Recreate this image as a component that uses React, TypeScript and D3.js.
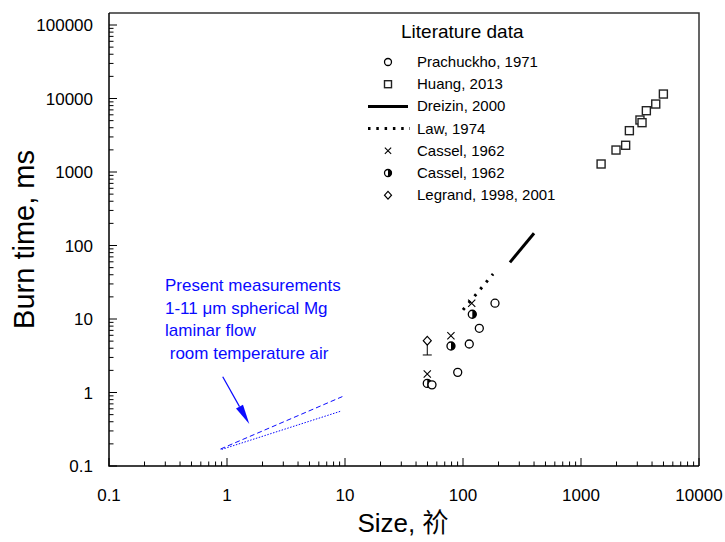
import React from "react";
import * as d3 from "d3";

const W = 725;
const H = 542;

// Tick labels
const xTickValues = [0.1, 1, 10, 100, 1000, 10000];
const yTickValues = [0.1, 1, 10, 100, 1000, 10000, 100000];

// Huang, 2013 (squares)
const huangX = [1480, 1980, 2390, 2570, 3160, 3290, 3580, 4300, 4990];
const huangY = [1285, 1990, 2310, 3650, 5100, 4690, 6820, 8410, 11500];

// Prachuckho, 1971 (open circles)
const prachX = [54.6, 90.2, 113, 137.5, 186.7];
const prachY = [1.27, 1.88, 4.57, 7.47, 16.4];

// Cassel, 1962 (half-filled circles)
const casselHalfX = [49.8, 79.1, 119.9];
const casselHalfY = [1.33, 4.29, 11.6];

// Cassel, 1962 (crosses)
const casselXX = [49.8, 79, 118.5];
const casselXY = [1.79, 5.93, 16.4];

// Legrand, 1998, 2001 (diamond with lower error)
const legrandX = [49.8];
const legrandY = [5.07];
const legrandLow = [3.24];

// Dreizin, 2000 (solid line)
const dreizinX = [250, 400];
const dreizinY = [59, 147];

// Law, 1974 (dotted line)
const lawX = [100, 180];
const lawY = [13.3, 41];

// Present measurements (blue)
const presDashX = [0.88, 9.5];
const presDashY = [0.17, 0.88];
const presDotX = [0.9, 9.3];
const presDotY = [0.168, 0.56];

// Annotation arrow (data coords)
const arrowFrom = [0.92, 1.64];
const arrowTo = [1.545, 0.372];

const annotationLines = [
  "Present measurements",
  "1-11 \u03bcm spherical Mg",
  "laminar flow",
  " room temperature air",
];

const legendTitle = "Literature data";
const legendItems = [
  { label: "Prachuckho, 1971", kind: "circle" },
  { label: "Huang, 2013", kind: "square" },
  { label: "Dreizin, 2000", kind: "solid" },
  { label: "Law, 1974", kind: "dotted" },
  { label: "Cassel, 1962", kind: "cross" },
  { label: "Cassel, 1962", kind: "half" },
  { label: "Legrand, 1998, 2001", kind: "diamond" },
];

const FONT = "'Liberation Sans', Arial, 'Noto Sans CJK SC', sans-serif";
const BLUE = "#0a0aff";

const left = 109;
const right = 699;
const bottom = 466;
const frameTop = 13;

const x = d3.scaleLog().domain([0.1, 10000]).range([left, right]);
const y = d3.scaleLog().domain([0.1, 100000]).range([bottom, 25]);

function minorTicks(lo: number, hi: number) {
  const out: number[] = [];
  for (let e = Math.log10(lo); e < Math.log10(hi); e++) {
    const base = Math.pow(10, e);
    for (let k = 2; k <= 9; k++) out.push(base * k);
  }
  return out;
}

function Marker({ kind, cx, cy, r = 4 }: { kind: string; cx: number; cy: number; r?: number }) {
  if (kind === "circle")
    return <circle cx={cx} cy={cy} r={r} fill="white" stroke="black" strokeWidth={1.3} />;
  if (kind === "square")
    return (
      <rect x={cx - r} y={cy - r} width={2 * r} height={2 * r} fill="white" stroke="#222" strokeWidth={1.4} />
    );
  if (kind === "cross")
    return (
      <path
        d={`M${cx - r * 0.9},${cy - r * 0.9}L${cx + r * 0.9},${cy + r * 0.9}M${cx - r * 0.9},${cy + r * 0.9}L${cx + r * 0.9},${cy - r * 0.9}`}
        stroke="black"
        strokeWidth={1.1}
      />
    );
  if (kind === "half")
    return (
      <g>
        <circle cx={cx} cy={cy} r={r} fill="white" stroke="black" strokeWidth={1.3} />
        <path d={`M${cx},${cy - r}A${r},${r} 0 0 1 ${cx},${cy + r}Z`} fill="black" />
      </g>
    );
  if (kind === "diamond")
    return (
      <path
        d={`M${cx},${cy - r * 1.1}L${cx + r},${cy}L${cx},${cy + r * 1.1}L${cx - r},${cy}Z`}
        fill="white"
        stroke="black"
        strokeWidth={1.2}
      />
    );
  return null;
}

export default function App() {
  const line = d3
    .line<[number, number]>()
    .x((d) => x(d[0]))
    .y((d) => y(d[1]));

  const xMinor = minorTicks(0.1, 10000);
  const yMinor = minorTicks(0.1, 100000);

  const ax0 = x(arrowFrom[0]);
  const ay0 = y(arrowFrom[1]);
  const ax1 = x(arrowTo[0]);
  const ay1 = y(arrowTo[1]);
  const ang = Math.atan2(ay1 - ay0, ax1 - ax0);
  const headLen = 20;
  const headW = 4;
  const bx = ax1 - headLen * Math.cos(ang);
  const by = ay1 - headLen * Math.sin(ang);
  const px = -Math.sin(ang) * headW;
  const py = Math.cos(ang) * headW;

  const legX = 388;
  const legY0 = 62;
  const legDy = 22.2;

  return (
    <svg
      width={W}
      height={H}
      style={{ position: "absolute", left: 0, top: 0, background: "white" }}
      fontFamily={FONT}
    >
      {/* frame */}
      <path d={`M${left},${frameTop}H${right}V${bottom}`} fill="none" stroke="#333" strokeWidth={1.5} />
      <path d={`M${left},${frameTop}V${bottom}H${right}`} fill="none" stroke="black" strokeWidth={1.5} />

      {/* x ticks */}
      {xTickValues.map((v) => (
        <line key={"xM" + v} x1={x(v)} x2={x(v)} y1={bottom} y2={bottom - 8} stroke="black" strokeWidth={1} />
      ))}
      {xMinor.map((v) => (
        <line key={"xm" + v} x1={x(v)} x2={x(v)} y1={bottom} y2={bottom - 4.5} stroke="black" strokeWidth={1} />
      ))}
      {xTickValues.map((v) => (
        <text key={"xl" + v} x={x(v)} y={501} textAnchor="middle" fontSize={17}>
          {String(v)}
        </text>
      ))}

      {/* y ticks */}
      {yTickValues.map((v) => (
        <line key={"yM" + v} x1={left} x2={left + 8} y1={y(v)} y2={y(v)} stroke="black" strokeWidth={1} />
      ))}
      {yMinor.map((v) => (
        <line key={"ym" + v} x1={left} x2={left + 4.5} y1={y(v)} y2={y(v)} stroke="black" strokeWidth={1} />
      ))}
      {yTickValues.map((v) => (
        <text key={"yl" + v} x={93} y={y(v) + 6} textAnchor="end" fontSize={17}>
          {String(v)}
        </text>
      ))}

      {/* axis titles */}
      <text x={403} y={532} textAnchor="middle" fontSize={26}>
        Size, 祄
      </text>
      <text
        transform={`translate(34,${(frameTop + bottom) / 2}) rotate(-90)`}
        textAnchor="middle"
        fontSize={29}
      >
        Burn time, ms
      </text>

      {/* Dreizin */}
      <path
        d={line(dreizinX.map((v, i) => [v, dreizinY[i]]) as [number, number][]) || ""}
        stroke="black"
        strokeWidth={3}
        fill="none"
      />
      {/* Law */}
      <path
        d={line(lawX.map((v, i) => [v, lawY[i]]) as [number, number][]) || ""}
        stroke="black"
        strokeWidth={3}
        strokeDasharray="2.5 6.5"
        fill="none"
      />

      {/* Present measurements */}
      <path
        d={line(presDashX.map((v, i) => [v, presDashY[i]]) as [number, number][]) || ""}
        stroke={BLUE}
        strokeWidth={1}
        strokeDasharray="5 3"
        fill="none"
      />
      <path
        d={line(presDotX.map((v, i) => [v, presDotY[i]]) as [number, number][]) || ""}
        stroke={BLUE}
        strokeWidth={1}
        strokeDasharray="1.5 1.5"
        fill="none"
      />
      <line x1={ax0} y1={ay0} x2={bx} y2={by} stroke={BLUE} strokeWidth={1.2} />
      <path d={`M${ax1},${ay1}L${bx + px},${by + py}L${bx - px},${by - py}Z`} fill={BLUE} />
      {annotationLines.map((t, i) => (
        <text key={"an" + i} x={165} y={291 + i * 22.5} fontSize={17} fill={BLUE} xmlSpace="preserve" style={{ whiteSpace: "pre" }}>
          {t}
        </text>
      ))}

      {/* Legrand error bar */}
      {legrandX.map((v, i) => (
        <g key={"lg" + i}>
          <line x1={x(v)} x2={x(v)} y1={y(legrandY[i])} y2={y(legrandLow[i])} stroke="black" strokeWidth={1} />
          <line x1={x(v) - 4.5} x2={x(v) + 4.5} y1={y(legrandLow[i])} y2={y(legrandLow[i])} stroke="black" strokeWidth={1} />
          <Marker kind="diamond" cx={x(v)} cy={y(legrandY[i])} />
        </g>
      ))}

      {/* markers */}
      {casselXX.map((v, i) => (
        <Marker key={"cx" + i} kind="cross" cx={x(v)} cy={y(casselXY[i])} />
      ))}
      {casselHalfX.map((v, i) => (
        <Marker key={"ch" + i} kind="half" cx={x(v)} cy={y(casselHalfY[i])} />
      ))}
      {prachX.map((v, i) => (
        <Marker key={"pc" + i} kind="circle" cx={x(v)} cy={y(prachY[i])} />
      ))}
      {huangX.map((v, i) => (
        <Marker key={"hs" + i} kind="square" cx={x(v)} cy={y(huangY[i])} />
      ))}

      {/* legend */}
      <text x={401} y={38} fontSize={19}>
        {legendTitle}
      </text>
      {legendItems.map((it, i) => {
        const cy = legY0 + i * legDy;
        return (
          <g key={"leg" + i}>
            {it.kind === "solid" && (
              <line x1={368} x2={408} y1={cy} y2={cy} stroke="black" strokeWidth={3} />
            )}
            {it.kind === "dotted" && (
              <line x1={368} x2={410} y1={cy} y2={cy} stroke="black" strokeWidth={3} strokeDasharray="2.5 5.8" />
            )}
            {it.kind !== "solid" && it.kind !== "dotted" && (
              <Marker kind={it.kind} cx={legX} cy={cy} r={3.5} />
            )}
            <text x={417} y={cy + 5} fontSize={15}>
              {it.label}
            </text>
          </g>
        );
      })}
    </svg>
  );
}
